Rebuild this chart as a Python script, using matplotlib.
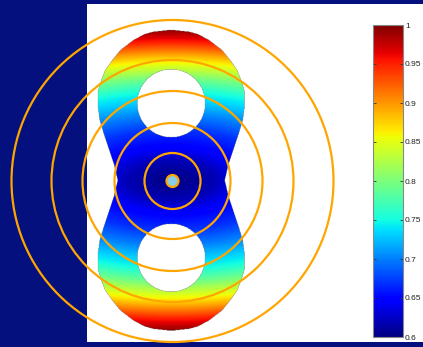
import numpy as np
import matplotlib
matplotlib.use("Agg")
import matplotlib.pyplot as plt
from matplotlib.patches import Circle, Rectangle

# --- data -------------------------------------------------------------
# Peanut-shaped domain: half-width of the body versus vertical distance
# from its centre (symmetric top / bottom).
outline_dy = [0, 15, 27, 45, 60, 75, 90, 100, 110, 120, 130, 140, 146, 148.5, 150.5]
outline_halfwidth = [53.5, 57, 61, 67, 71.5, 73.5, 73, 70, 66, 59, 51, 38, 27, 18, 0]

# Two circular holes (vertical offset from centre, radius)
hole_dy = [-77, 77.5]
hole_radius = [34, 34]

# Field value as a function of the (anisotropic) distance from the centre
field_dist = [0, 20, 35, 50, 65, 78, 88, 100, 110, 118, 127, 138, 152]
field_value = [0.6, 0.62, 0.65, 0.67, 0.70, 0.73, 0.75, 0.79, 0.83, 0.86, 0.90, 0.95, 1.0]

# Concentric rings
ring_radius = [28, 58, 90, 121, 161]
dot_radius = 6

# Colorbar
cbar_ticks = [0.6, 0.65, 0.7, 0.75, 0.8, 0.85, 0.9, 0.95, 1.0]
cbar_labels = ["0.6", "0.65", "0.7", "0.75", "0.8", "0.85", "0.9", "0.95", "1"]

# --- layout -----------------------------------------------------------
W, H = 423, 347
NAVY = "#03107E"
ORANGE = "#FFA500"
shape_cx, shape_cy = 171.0, 180.5
ring_cx, ring_cy = 172.5, 181.0

fig = plt.figure(figsize=(W / 100, H / 100), dpi=100, facecolor=NAVY)
ax = fig.add_axes([0, 0, 1, 1])
ax.set_xlim(0, W)
ax.set_ylim(H, 0)
ax.axis("off")
ax.set_facecolor(NAVY)

# white panel
ax.add_patch(Rectangle((87, 4), W - 87, 337.5, facecolor="white", edgecolor="none", zorder=0))

# --- field on the domain ---------------------------------------------
step = 0.5
xs = np.arange(shape_cx - 80, shape_cx + 80, step)
ys = np.arange(shape_cy - 155, shape_cy + 155, step)
X, Y = np.meshgrid(xs, ys)
DX = X - shape_cx
DY = Y - shape_cy
hw = np.interp(np.abs(DY), outline_dy, outline_halfwidth, right=0)
inside = np.abs(DX) < hw
for hdy, hr in zip(hole_dy, hole_radius):
    inside &= (DX ** 2 + (DY - hdy) ** 2) > hr ** 2
dist = np.sqrt(DY ** 2 + (0.45 * DX) ** 2)
Z = np.interp(dist, field_dist, field_value)
Z = np.ma.masked_where(~inside, Z)

im = ax.imshow(Z, cmap="jet", vmin=0.6, vmax=1.0, origin="upper",
               extent=(xs[0], xs[-1] + step, ys[-1] + step, ys[0]),
               interpolation="antialiased", zorder=1)

# --- rings ----------------------------------------------------------
for r in ring_radius:
    ax.add_patch(Circle((ring_cx, ring_cy), r, fill=False, edgecolor=ORANGE,
                        linewidth=1.6, zorder=3))
ax.add_patch(Circle((ring_cx, ring_cy), dot_radius, facecolor="#87CEEB",
                    edgecolor=ORANGE, linewidth=1.6, zorder=4))

# --- colorbar -------------------------------------------------------
cax = fig.add_axes([373 / W, (H - 337) / H, 30 / W, 312 / H])
cb = fig.colorbar(im, cax=cax, ticks=cbar_ticks)
cb.ax.set_yticklabels(cbar_labels, fontsize=6, family="Liberation Sans", color="#222222")
cb.ax.tick_params(direction="in", length=2, width=0.6, colors="#333333", pad=1.5,
                  left=True, right=True, labelcolor="#222222")
cb.outline.set_edgecolor("#888888")
cb.outline.set_linewidth(0.8)

fig.savefig("out.png", dpi=100, facecolor=NAVY)
